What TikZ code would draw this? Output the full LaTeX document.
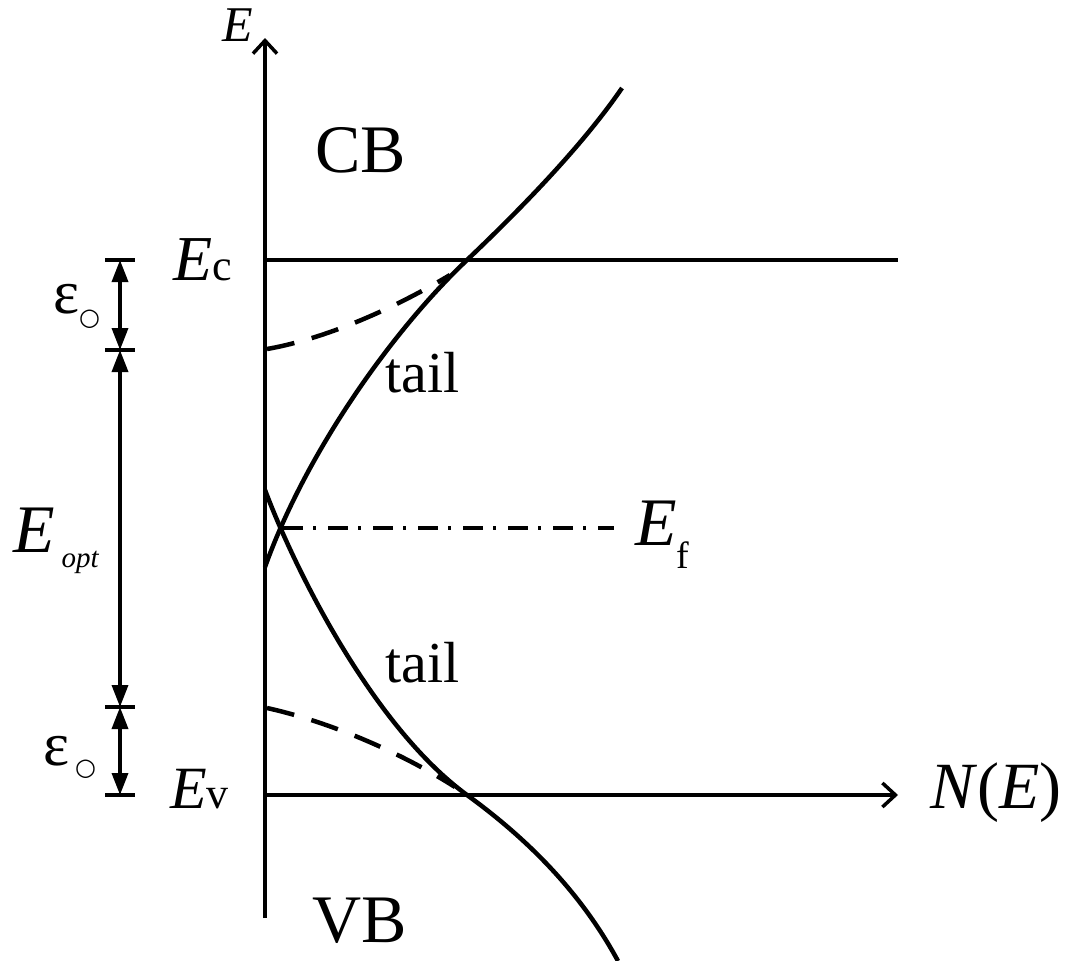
\documentclass[tikz,border=0pt]{standalone}
\usepackage{fontspec}
\setmainfont{Liberation Serif}
\newfontfamily\symfont{DejaVu Sans}
\usetikzlibrary{arrows.meta}
\newcommand{\fsz}[1]{\fontsize{#1}{#1}\selectfont}
\begin{document}
\begin{tikzpicture}[x=1pt,y=-1pt,
  axisline/.style={line width=3.5pt},
  bandcurve/.style={line width=4.5pt},
  tailcurve/.style={line width=4.5pt, dash pattern=on 28pt off 18pt},
  fermi/.style={line width=3.5pt, dash pattern=on 20pt off 10pt on 3pt off 12pt},
  axarrow/.style={-{Straight Barb[length=13pt,width=24pt]}},
  dimarrow/.style={line width=3.5pt, {Triangle[length=22pt,width=16pt]}-{Triangle[length=22pt,width=16pt]}},
  tick/.style={line width=3.5pt},
  lbl/.style={inner sep=0pt, anchor=base west},
]
\useasboundingbox (0,0) rectangle (1071,961);

% coordinates
\coordinate (O) at (265,918);
\coordinate (Etop) at (265,38);
\coordinate (Ec0) at (265,260);
\coordinate (Ec1) at (898,260);
\coordinate (Ev0) at (265,795);
\coordinate (Ev1) at (898,795);
\coordinate (Ef0) at (283,528);
\coordinate (Ef1) at (614,528);
% band curve anchors
\coordinate (cbTop) at (622,88);
\coordinate (cbX) at (467,260);
\coordinate (cbEnd) at (265,567);
\coordinate (vbStart) at (265,490);
\coordinate (vbX) at (467,795);
\coordinate (vbEnd) at (618,961);
\coordinate (ctS) at (267,349);
\coordinate (ctE) at (450,275);
\coordinate (vtS) at (267,708);
\coordinate (vtE) at (455,787);
% dimension ticks
\coordinate (t1) at (120,260);
\coordinate (t2) at (120,350);
\coordinate (t3) at (120,707);
\coordinate (t4) at (120,795);

% axes and levels
\draw[axisline,axarrow] (O) -- (Etop);
\draw[axisline] (Ec0) -- (Ec1);
\draw[axisline,axarrow] (Ev0) -- (Ev1);
\draw[fermi] (Ef0) -- (Ef1);

% band curves
\draw[bandcurve] (cbTop) .. controls (585,142) and (527,203) .. (cbX)
  .. controls (390,333) and (305,455) .. (cbEnd);
\draw[bandcurve] (vbStart) .. controls (297,575) and (375,728) .. (vbX)
  .. controls (536,845) and (585,900) .. (vbEnd);

% tails
\draw[tailcurve] (ctS) .. controls (330,338) and (400,305) .. (ctE);
\draw[tailcurve] (vtS) .. controls (330,722) and (400,752) .. (vtE);

% dimension bars
\foreach \t in {t1,t2,t3,t4} \draw[tick] ([xshift=-15pt]\t) -- ([xshift=15pt]\t);
\draw[dimarrow] (t1) -- (t2);
\draw[dimarrow] (t2) -- (t3);
\draw[dimarrow] (t3) -- (t4);

% labels
\node[lbl] (lE) at (222,41) {\fsz{50}\textit{E}};
\node[lbl] (lCB) at (315,172) {\fsz{68}CB};
\node[lbl] (lVB) at (312,942) {\fsz{68}VB};
\node[lbl] (lEc) at (173,280) {\fsz{64}\textit{E}\fsz{44}c};
\node[lbl] (lEv) at (170,808) {\fsz{60}\textit{E}\fsz{44}v};
\node[lbl] (lEf) at (635,545) {\fsz{68}\textit{E}\raisebox{-23pt}{\fsz{38}f}};
\node[lbl] (lNE) at (930,808) {\fsz{66}\textit{N}(\textit{E})};
\node[lbl] (ltail1) at (385,392) {\fsz{58}tail};
\node[lbl] (ltail2) at (385,682) {\fsz{58}tail};
\node[lbl] (lEopt) at (13,552) {\fsz{68}\textit{E}\hspace{7pt}\raisebox{-15pt}{\fsz{29}\textit{opt}}};
\node[lbl] (leps1) at (53,313) {\fsz{62}ε\raisebox{-12pt}{\symfont\fsz{24}○}};
\node[lbl] (leps2) at (43,765) {\fsz{62}ε\hspace{6pt}\raisebox{-10pt}{\symfont\fsz{24}○}};
\end{tikzpicture}
\end{document}
